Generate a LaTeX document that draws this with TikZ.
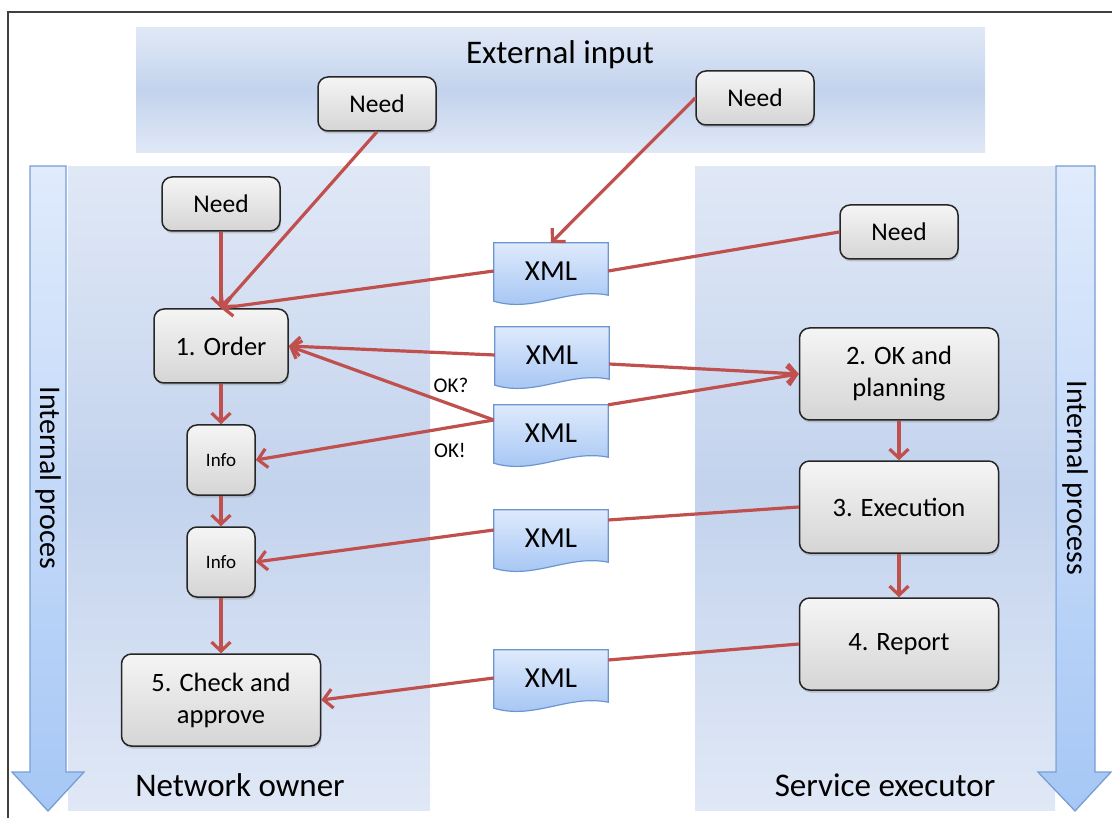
\documentclass[tikz,border=0pt]{standalone}
\usepackage{fontspec}
\setmainfont{Carlito}
\usetikzlibrary{arrows.meta,shadows,calc}

\definecolor{linered}{RGB}{192,80,77}
\definecolor{paneltop}{RGB}{224,232,246}
\definecolor{panelmid}{RGB}{195,211,237}
\definecolor{doctop}{RGB}{222,234,252}
\definecolor{docbot}{RGB}{160,194,243}
\definecolor{docline}{RGB}{108,150,208}
\definecolor{arrowtop}{RGB}{224,235,252}
\definecolor{arrowbot}{RGB}{166,199,245}
\definecolor{arrowline}{RGB}{118,158,212}

\pgfdeclarelayer{bg}
\pgfdeclarelayer{docs}
\pgfsetlayers{bg,docs,main}

\tikzset{
  box/.style={draw=black!85, line width=1.5pt, rounded corners=10pt, top color=gray!8, bottom color=gray!33,
    drop shadow={shadow xshift=1pt, shadow yshift=-2.5pt, opacity=0.35}, align=center,
    font=\fontsize{26.5}{32}\selectfont},
  needbox/.style={box, minimum width=118pt, minimum height=54pt, font=\fontsize{25.5}{28}\selectfont},
  stepbox/.style={box, minimum width=199pt, minimum height=92pt},
  infobox/.style={box, minimum width=68pt, minimum height=70pt, font=\fontsize{19}{22}\selectfont},
  xmlnode/.style={minimum width=114pt, minimum height=56pt, font=\fontsize{29}{30}\selectfont},
  xmlshape/.style={draw=docline, line width=1.2pt, top color=doctop, bottom color=docbot},
  conn/.style={draw=linered, line width=3.2pt, -{Straight Barb[length=9pt,width=19pt]}},
  link/.style={draw=linered, line width=3.2pt},
  panel/.style={top color=paneltop, bottom color=paneltop, middle color=panelmid},
  bigarrow/.style={draw=arrowline, line width=1.3pt, top color=arrowtop, bottom color=arrowbot},
  lbl/.style={font=\fontsize{33}{36}\selectfont},
}

\begin{document}
\begin{tikzpicture}[x=1pt,y=-1pt]
    \useasboundingbox (0,0) rectangle (1112,818);

    % frame and panels
    \begin{pgfonlayer}{bg}
        \draw[black!75, line width=1.2pt] (8,818) -- (8,12) -- (1112,12);
        \fill[panel] (136,28) rectangle (985,153);
        \fill[panel] (68,167) rectangle (430,810);
        \fill[panel] (695,167) rectangle (1055,810);
        \draw[bigarrow] (30,166) -- (66,166) -- (66,772) -- (84,772) -- (48,811) -- (12,772) -- (30,772) -- cycle;
        \draw[bigarrow] (1056,166) -- (1095,166) -- (1095,772) -- (1111,772) -- (1075,811) -- (1038,772) -- (1056,772) -- cycle;
    \end{pgfonlayer}

    % panel labels
    \node[lbl] (ext) at (560,55) {External input};
    \node[lbl] (owner) at (240,785) {Network owner};
    \node[lbl] (exec-lbl) at (885,785) {Service executor};
    \node[rotate=-90, font=\fontsize{30}{32}\selectfont] (int1) at (48,478) {Internal proces};
    \node[rotate=-90, font=\fontsize{30}{32}\selectfont] (int2) at (1075,478) {Internal process};

    % needs
    \node[needbox] (need1) at (377,104) {Need};
    \node[needbox] (need2) at (755,98) {Need};
    \node[needbox] (need3) at (221,204) {Need};
    \node[needbox] (need4) at (899,232) {Need};

    % network owner steps
    \node[box, minimum width=134pt, minimum height=74pt] (order) at (221,346) {1. Order};
    \node[infobox] (info1) at (221,460) {Info};
    \node[infobox] (info2) at (221,562) {Info};
    \node[stepbox] (check) at (221,700) {5. Check and\\approve};

    % service executor steps
    \node[stepbox] (okplan) at (899,374) {2. OK and\\planning};
    \node[stepbox] (exec) at (899,507) {3. Execution};
    \node[stepbox] (report) at (899,644) {4. Report};

    % xml messages
    \node[xmlnode] (x1) at (551,271) {XML};
    \node[xmlnode] (x2) at (552,355) {XML};
    \node[xmlnode] (x3) at (551,433) {XML};
    \node[xmlnode] (x4) at (551,538) {XML};
    \node[xmlnode] (x5) at (551,678) {XML};
    \begin{pgfonlayer}{docs}
        \foreach \d in {x1,x2,x3,x4,x5}
            \draw[xmlshape] (\d.north west) -- (\d.north east) -- ($(\d.south east)+(0,-4)$)
                .. controls ($(\d.south east)+(-40,-12)$) and ($(\d.south west)+(40,14)$) .. ($(\d.south west)+(0,2)$) -- cycle;
    \end{pgfonlayer}

    \node[font=\fontsize{21}{24}\selectfont] (okq) at (451,385) {OK?};
    \node[font=\fontsize{21}{24}\selectfont] (okx) at (450,450) {OK!};

    % connectors
    \draw[conn] (need1.south) -- (order.north);
    \draw[conn] (need3.south) -- (order.north);
    \draw[conn] (x1.west) -- (order.north);
    \draw[link] (need4.west) -- (x1.east);
    \draw[conn] (need2.west) -- (x1.north);
    \draw[conn] (x2.west) -- (order.east);
    \draw[conn] ([yshift=13pt]x3.west) -- (order.east);
    \draw[conn] ([yshift=13pt]x3.west) -- (info1.east);
    \draw[conn] ([yshift=-9pt]x2.east) -- (okplan.west);
    \draw[conn] (x3.north east) -- (okplan.west);
    \draw[link] (exec.west) -- ([yshift=18pt]x4.east);
    \draw[conn] ([yshift=8pt]x4.west) -- (info2.east);
    \draw[link] (report.west) -- ([yshift=18pt]x5.east);
    \draw[conn] (x5.west) -- (check.east);

    \draw[conn] (order.south) -- (info1.north);
    \draw[conn] (info1.south) -- (info2.north);
    \draw[conn] (info2.south) -- (check.north);
    \draw[conn] (okplan.south) -- (exec.north);
    \draw[conn] (exec.south) -- (report.north);
\end{tikzpicture}
\end{document}
